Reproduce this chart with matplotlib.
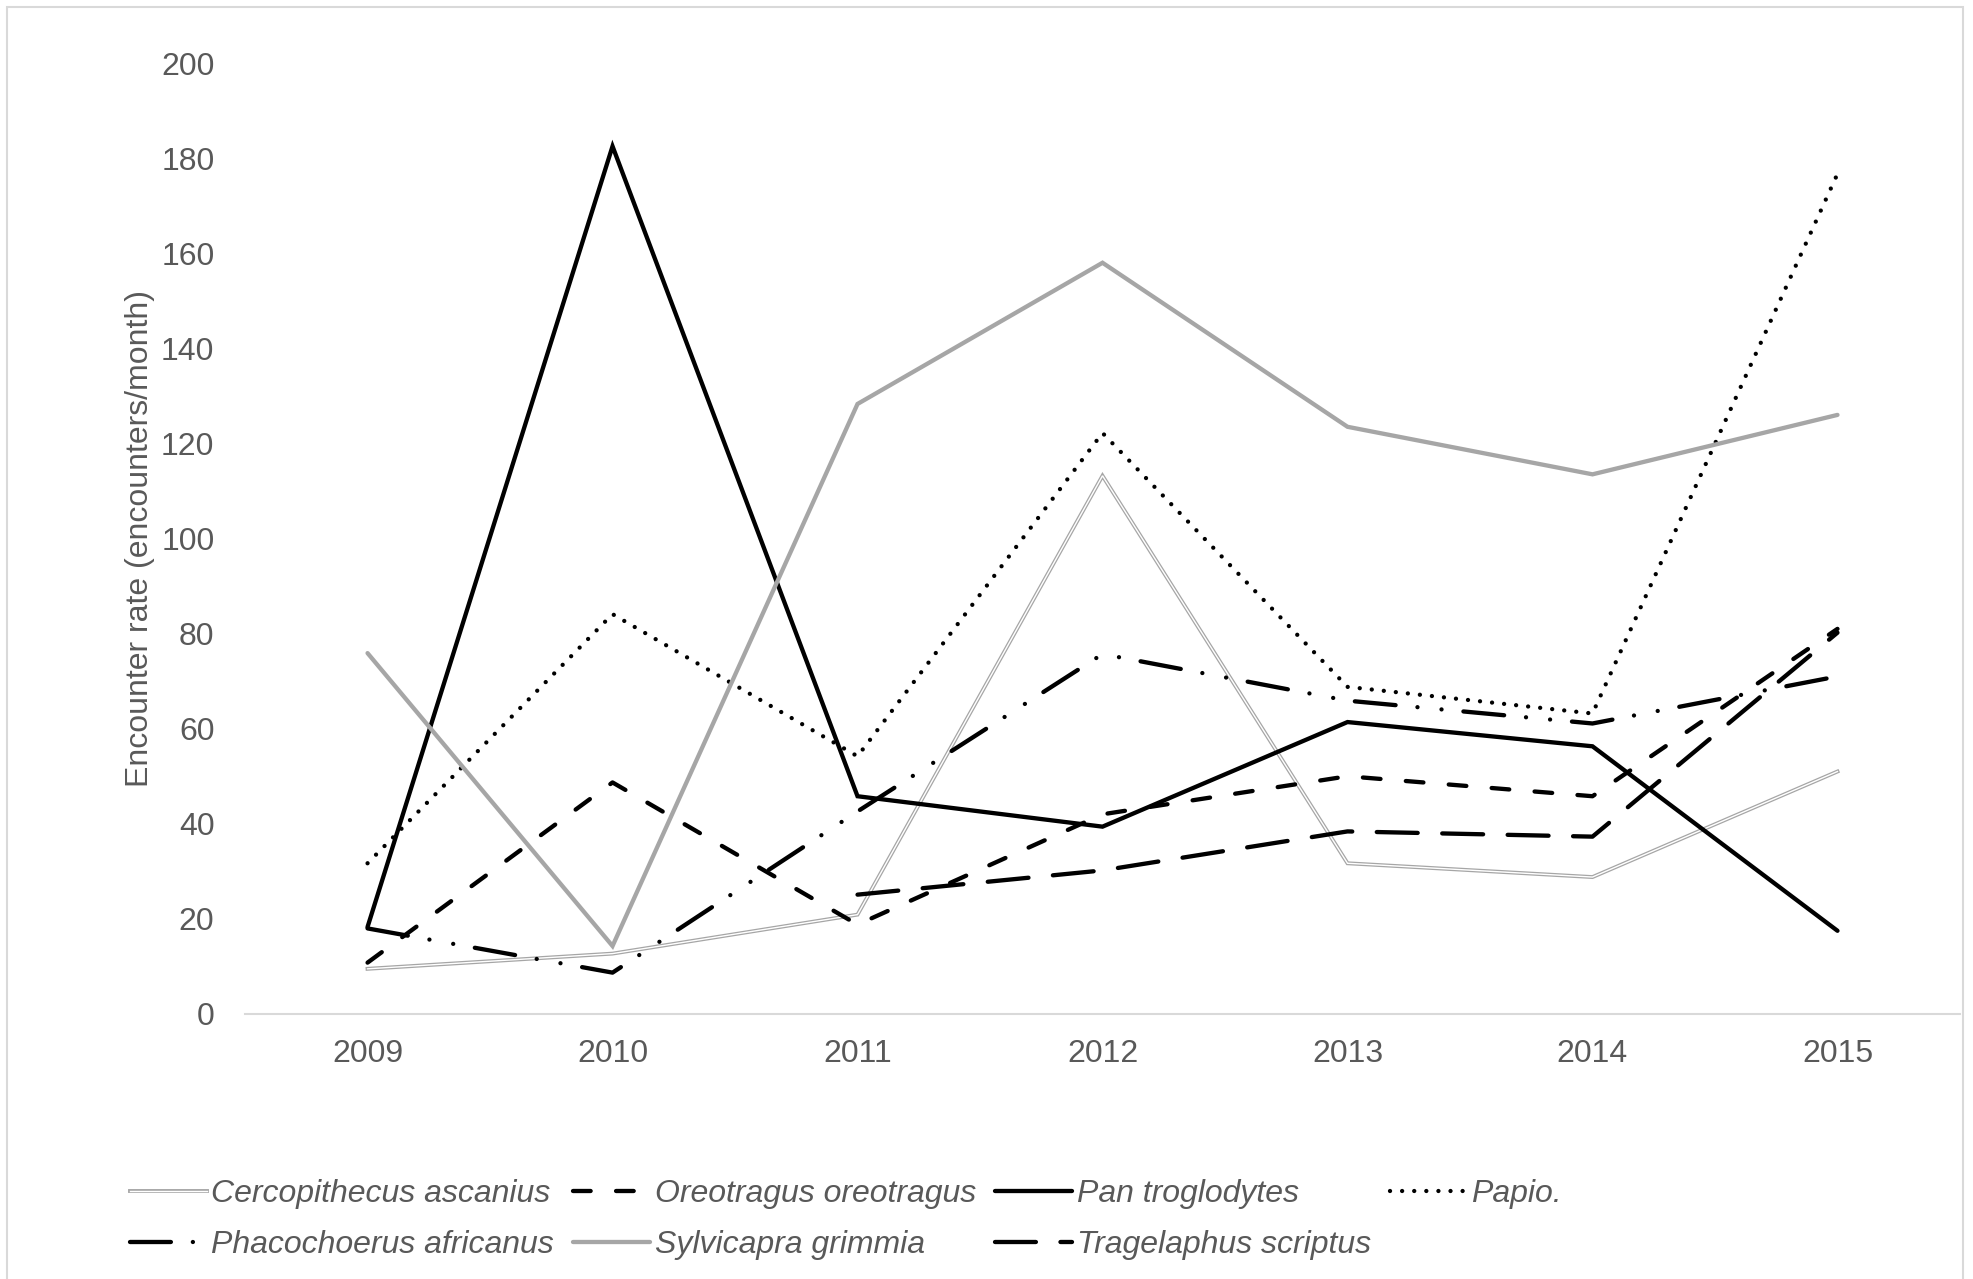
import numpy as np
import matplotlib
matplotlib.use("Agg")
import matplotlib.pyplot as plt
import matplotlib.patheffects as pe
from matplotlib.patches import Rectangle

years = [2009, 2010, 2011, 2012, 2013, 2014, 2015]
cercopithecus = [9.5, 12.7, 20.9, 113.2, 31.7, 28.8, 51.0]
oreotragus = [10.8, 48.7, 18.8, 42.0, 50.0, 45.8, 81.0]
pan = [18.3, 182.5, 45.8, 39.4, 61.4, 56.3, 17.5]
papio = [31.7, 84.1, 54.2, 122.2, 68.8, 63.2, 176.7]
phacochoerus = [18.0, 8.7, 42.6, 75.7, 65.9, 61.1, 71.0]
sylvicapra = [75.9, 14.3, 128.3, 158.0, 123.5, 113.5, 126.0]
tragelaphus = [np.nan, np.nan, 25.1, 30.2, 38.4, 37.3, 80.2]

labels = ["Cercopithecus ascanius", "Oreotragus oreotragus", "Pan troglodytes",
          "Papio.", "Phacochoerus africanus", "Sylvicapra grimmia",
          "Tragelaphus scriptus"]
yticks = [0, 20, 40, 60, 80, 100, 120, 140, 160, 180, 200]

plt.rcParams['font.family'] = ['Liberation Sans', 'DejaVu Sans']
TXT = '#595959'
GRAY = '#A6A6A6'

fig = plt.figure(figsize=(19.73, 12.79), dpi=100)
ax = fig.add_axes([0.1242, 0.2072, 0.9934 - 0.1242, 0.9507 - 0.2072])

x = np.array(years)
LW = 3.1
common = dict(solid_capstyle='round', dash_capstyle='round', solid_joinstyle='miter')

h = {}
h[0], = ax.plot(x, cercopithecus, color='white', lw=1.0,
                path_effects=[pe.Stroke(linewidth=2.8, foreground=GRAY), pe.Normal()],
                solid_joinstyle='miter', label=labels[0])
h[1], = ax.plot(x, oreotragus, color='black', lw=LW,
                linestyle=(0, (4.1, 5.9)), label=labels[1], **common)
h[2], = ax.plot(x, pan, color='black', lw=LW, label=labels[2], **common)
h[3], = ax.plot(x, papio, color='black', lw=LW,
                linestyle=(0, (0.01, 2.8)), label=labels[3], **common)
h[4], = ax.plot(x, phacochoerus, color='black', lw=LW,
                linestyle=(0, (9.5, 5.1, 0.01, 5.6, 0.01, 5.1)), label=labels[4], **common)
h[5], = ax.plot(x, sylvicapra, color=GRAY, lw=LW, label=labels[5], **common)
h[6], = ax.plot(x, tragelaphus, color='black', lw=LW,
                linestyle=(0, (9.5, 5.7)), label=labels[6], **common)

ax.set_xlim(2008.5, 2015.5)
ax.set_ylim(0, 200)
ax.set_xticks(years)
ax.set_xticklabels([str(y) for y in years])
ax.set_yticks(yticks)
ax.tick_params(axis='both', length=0, labelsize=23, labelcolor=TXT)
ax.tick_params(axis='y', pad=22)
ax.tick_params(axis='x', pad=18)
for s in ['top', 'right', 'left']:
    ax.spines[s].set_visible(False)
ax.spines['bottom'].set_color('#D9D9D9')
ax.spines['bottom'].set_linewidth(1.5)
ax.set_ylabel("Encounter rate (encounters/month)", fontsize=23, color=TXT)
ax.yaxis.set_label_coords(-0.0525, 0.5)

order = [0, 4, 1, 5, 2, 6, 3]
leg = fig.legend([h[i] for i in order], [labels[i] for i in order], ncol=4,
                 loc='upper left', bbox_to_anchor=(130 / 1973, 1 - 1179 / 1279),
                 frameon=False, handlelength=2.4, handletextpad=0.15,
                 columnspacing=0.6, labelspacing=0.66, borderpad=0, borderaxespad=0,
                 prop={'size': 23, 'style': 'italic'})
for t in leg.get_texts():
    t.set_color(TXT)

fig.patches.append(Rectangle((7 / 1973, -0.01), (1963 - 7) / 1973, 1.01 - 7 / 1279,
                             transform=fig.transFigure, fill=False,
                             edgecolor='#D9D9D9', lw=1.5))

fig.savefig("out.png", dpi=100, facecolor='white')
